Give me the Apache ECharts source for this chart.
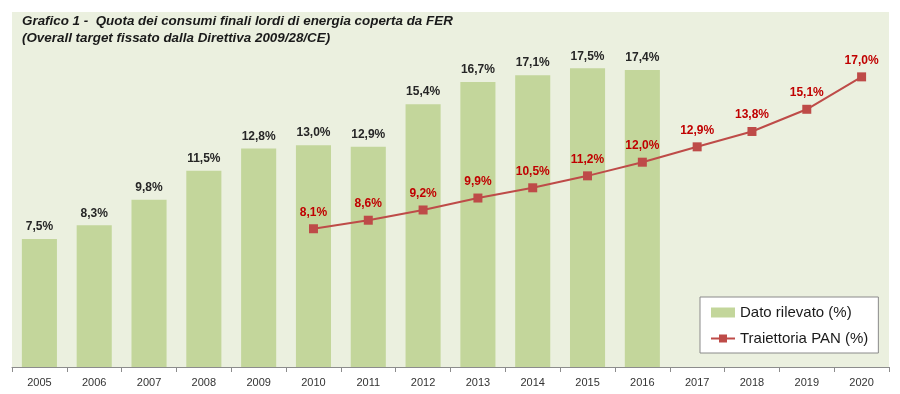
<!DOCTYPE html>
<html>
<head>
<meta charset="utf-8">
<script src="https://cdn.jsdelivr.net/npm/echarts@6/dist/echarts.min.js"></script>
<style>html,body{margin:0;padding:0;background:#fff;}#c{width:900px;height:394px;}</style>
</head>
<body>
<div id="c"></div>
<script>
const categories = ['2005','2006','2007','2008','2009','2010','2011','2012','2013','2014','2015','2016','2017','2018','2019','2020'];
const datoRilevato = [7.5, 8.3, 9.8, 11.5, 12.8, 13.0, 12.9, 15.4, 16.7, 17.1, 17.5, 17.4, null, null, null, null];
const traiettoriaPAN = [null, null, null, null, null, 8.1, 8.6, 9.2, 9.9, 10.5, 11.2, 12.0, 12.9, 13.8, 15.1, 17.0];
const titleLines = ['Grafico 1 -  Quota dei consumi finali lordi di energia coperta da FER', '(Overall target fissato dalla Direttiva 2009/28/CE)'];

const fmt = v => v.toFixed(1).replace('.', ',') + '%';
const FONT = 'Liberation Sans';

const chart = echarts.init(document.getElementById('c'));
chart.setOption({
  animation: false,
  backgroundColor: '#ffffff',
  textStyle: { fontFamily: FONT },
  title: {
    text: titleLines.join('\n'),
    left: 17, top: 8,
    textStyle: { fontSize: 13.4, fontWeight: 'bold', fontStyle: 'italic', color: '#1a1a1a', lineHeight: 17, fontFamily: FONT }
  },
  grid: { left: 12, right: 11, top: 12, bottom: 27, show: true, backgroundColor: '#ebf0df', borderWidth: 0 },
  legend: {
    orient: 'vertical',
    left: 700, top: 297,
    width: 180,
    padding: [8, 10, 7, 10],
    backgroundColor: '#ffffff',
    borderColor: '#8a8a8a',
    borderWidth: 1,
    itemGap: 11,
    itemWidth: 24,
    itemHeight: 10,
    textStyle: { fontSize: 15, color: '#1a1a1a', fontFamily: FONT, padding: [0, 14, 0, 0] },
    data: [
      { name: 'Dato rilevato (%)', icon: 'rect' },
      { name: 'Traiettoria PAN (%)' }
    ]
  },
  xAxis: {
    type: 'category',
    data: categories,
    boundaryGap: true,
    axisLine: { lineStyle: { color: '#8c8c8c' } },
    axisTick: { show: true, length: 5, lineStyle: { color: '#8c8c8c' } },
    axisLabel: { fontSize: 11, color: '#333', margin: 10 }
  },
  yAxis: {
    type: 'value',
    min: 0, max: 20.8,
    show: false,
    splitLine: { show: false }
  },
  series: [
    {
      name: 'Dato rilevato (%)',
      type: 'bar',
      data: datoRilevato,
      barWidth: '64%',
      itemStyle: { color: '#c3d69b' },
      label: { show: true, position: 'top', distance: 6, formatter: p => fmt(p.value), fontSize: 12, fontWeight: 'bold', color: '#262626' }
    },
    {
      name: 'Traiettoria PAN (%)',
      type: 'line',
      data: traiettoriaPAN,
      symbol: 'rect',
      symbolSize: 9,
      lineStyle: { color: '#be4b48', width: 2 },
      itemStyle: { color: '#be4b48' },
      label: { show: true, position: 'top', distance: 6, formatter: p => fmt(p.value), fontSize: 12, fontWeight: 'bold', color: '#c00000' }
    }
  ]
});
</script>
</body>
</html>
